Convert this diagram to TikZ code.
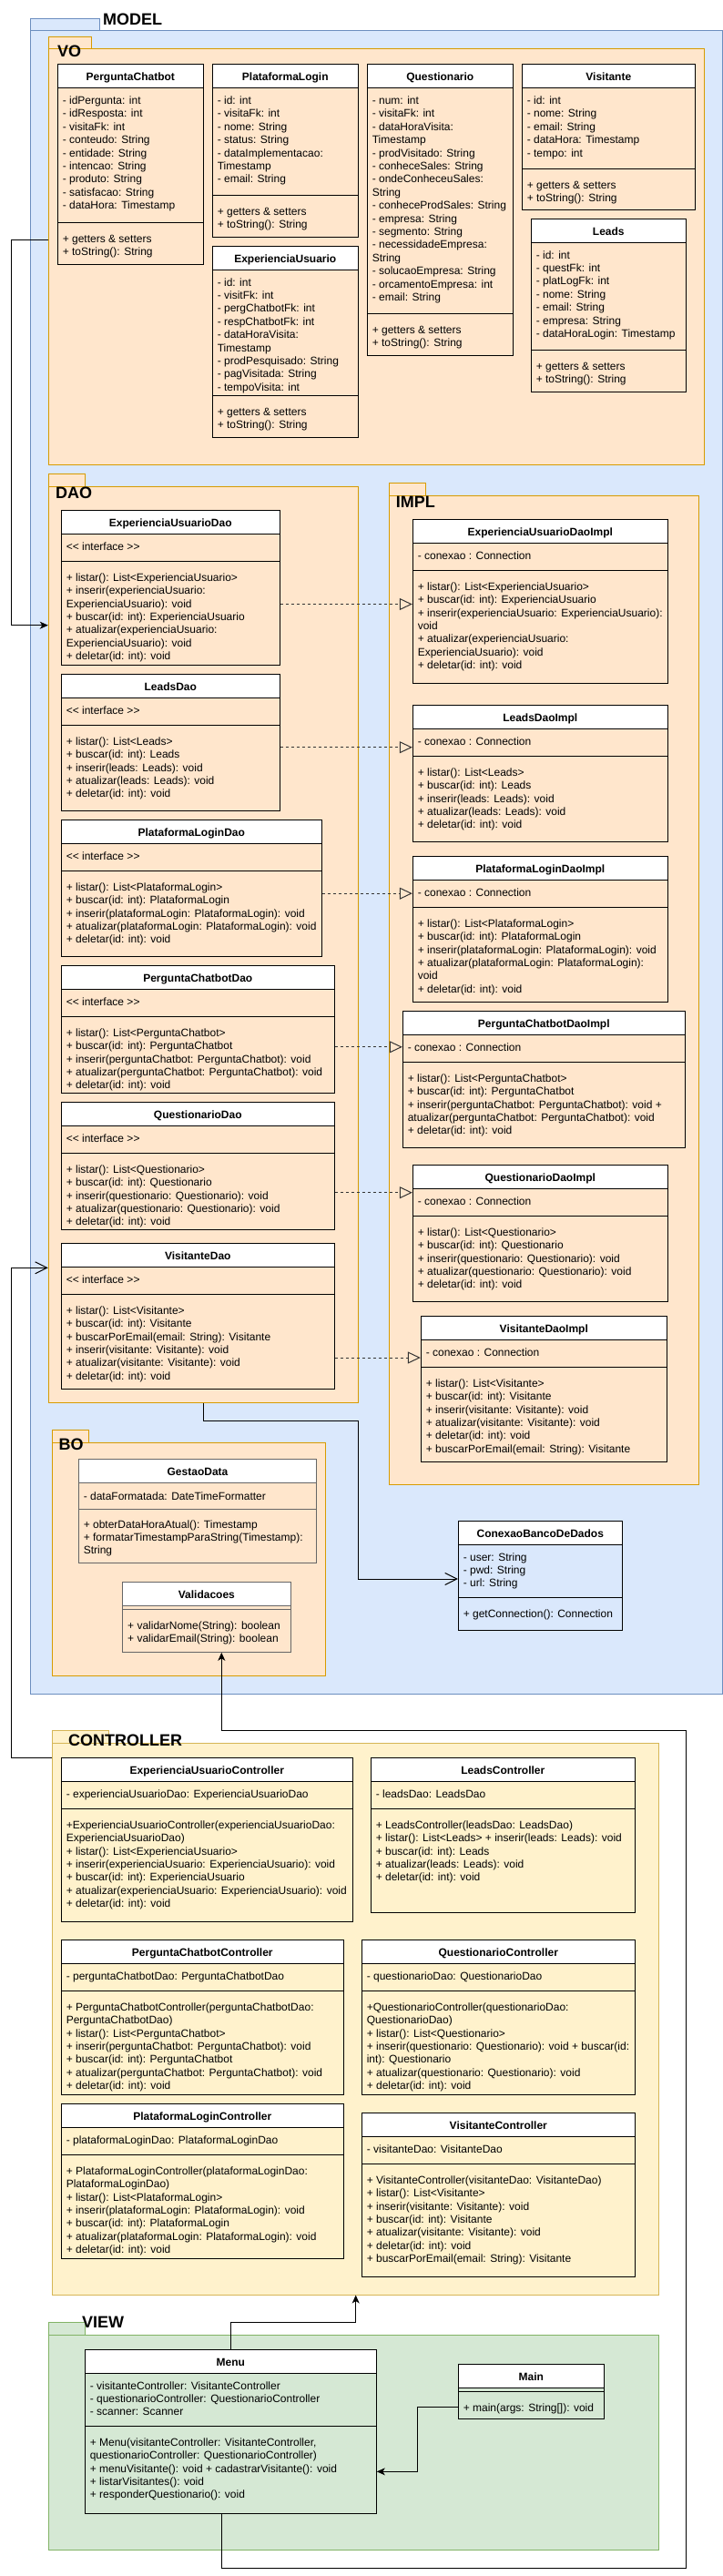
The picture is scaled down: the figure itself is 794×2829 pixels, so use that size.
\documentclass[tikz,border=0pt]{standalone}
\usepackage{fontspec}
\setmainfont{Liberation Sans}
\usetikzlibrary{arrows.meta,fit}
\definecolor{mfill}{HTML}{DAE8FC}\definecolor{mline}{HTML}{6C8EBF}
\definecolor{ofill}{HTML}{FFE6CC}\definecolor{oline}{HTML}{D79B00}
\definecolor{yfill}{HTML}{FFF2CC}\definecolor{yline}{HTML}{D6B656}
\definecolor{gfill}{HTML}{D5E8D4}\definecolor{gline}{HTML}{82B366}
\tikzset{
  pkgtitle/.style={font=\fontsize{18}{21.6}\selectfont\bfseries, inner sep=0pt, anchor=base west},
  ctitle/.style={font=\fontsize{12}{14.4}\selectfont\bfseries, inner sep=0pt, anchor=base},
  ctext/.style={font=\fontsize{12}{14.4}\selectfont, inner sep=0pt, anchor=north west, align=left},
  cborder/.style={draw=black, line width=1pt},
  pkgbox/.style={inner sep=0pt, line width=1pt},
  conn/.style={draw=black, line width=1pt},
  filledtip/.style={-{Stealth[length=9pt,width=8pt,inset=2.5pt]}},
  opentip/.style={-{Straight Barb[length=13pt,width=13pt]}},
  dashline/.style={draw=black!80, line width=1pt, dash pattern=on 3pt off 3pt, -{Triangle[open,length=14pt,width=13pt]}}
}
\newcommand\UMLcls[8]{%
  \fill[white] (#2,#3) rectangle (#4,#6);
  \node[fit={(#2,#3) (#4,#5)}, inner sep=0pt, cborder] (#1) {};
  \draw[cborder] (#2,#6) -- (#4,#6) (#2,#7) -- (#4,#7);
  \node[ctitle] (#1-t) at ({(#2+#4)/2},{(#3+#6)/2+5}) {#8};
}
\newcommand\UMLa[4]{\node[ctext] (#1) at ({#2+5.3},{#3+7.5}) {\strut #4};}
\newcommand\UMLm[4]{\node[ctext] (#1) at ({#2+5.3},{#3+11.7}) {\strut #4};}
\newcommand\UMLpkg[9]{% name fill line x1 ytab xtab ybody x2 y2
  \filldraw[fill=#2, draw=#3, line width=1pt] (#4,#5) rectangle (#6,#7);
  \node[fit={(#4,#7) (#8,#9)}, pkgbox, fill=#2, draw=#3] (#1) {};
}
\begin{document}
\begin{tikzpicture}[x=1pt,y=-1pt]
\useasboundingbox (0,0) rectangle (794,2829);

% ---------- packages ----------
\UMLpkg{model}{mfill}{mline}{33.3}{20.7}{109.3}{34}{793}{1860}
\node[pkgtitle] (model-t) at (113,27.7) {MODEL};
\UMLpkg{vo}{ofill}{oline}{53.3}{40.3}{100.7}{54}{773.3}{510.3}
\node[pkgtitle] (vo-t) at (63,62.3) {VO};
\UMLpkg{dao}{ofill}{oline}{53.3}{520.3}{93.3}{534}{393.3}{1540}
\node[pkgtitle] (dao-t) at (61,547.3) {DAO};
\UMLpkg{impl}{ofill}{oline}{427.3}{530.3}{467.3}{544}{767.3}{1630}
\node[pkgtitle] (impl-t) at (434.7,557.3) {IMPL};
\UMLpkg{bo}{ofill}{oline}{57.3}{1570.3}{97.3}{1584}{357.3}{1840}
\node[pkgtitle] (bo-t) at (64.4,1592) {BO};
\UMLpkg{ctrl}{yfill}{yline}{57.3}{1900.3}{119.3}{1914}{723.3}{2520}
\node[pkgtitle] (ctrl-t) at (75,1917.3) {CONTROLLER};
\UMLpkg{view}{gfill}{gline}{53.3}{2550.3}{93.3}{2564}{723.3}{2800.3}
\node[pkgtitle] (view-t) at (90,2556.7) {VIEW};

% ---------- VO ----------
\UMLcls{pc}{63.3}{70.3}{223.3}{290.3}{96.7}{244.3}{PerguntaChatbot}
\UMLa{pc-a}{63.3}{96.7}{- idPergunta: int\\- idResposta: int\\- visitaFk: int\\- conteudo: String\\- entidade: String\\- intencao: String\\- produto: String\\- satisfacao: String\\- dataHora: Timestamp}
\UMLm{pc-m}{63.3}{244.3}{+ getters \& setters\\+ toString(): String}

\UMLcls{pl}{233.3}{70.3}{393.3}{260.3}{96.7}{214.3}{PlataformaLogin}
\UMLa{pl-a}{233.3}{96.7}{- id: int\\- visitaFk: int\\- nome: String\\- status: String\\- dataImplementacao:\\Timestamp\\- email: String}
\UMLm{pl-m}{233.3}{214.3}{+ getters \& setters\\+ toString(): String}

\UMLcls{eu}{233.3}{270.3}{393.3}{480.3}{296.3}{434.3}{ExperienciaUsuario}
\UMLa{eu-a}{233.3}{296.3}{- id: int\\- visitFk: int\\- pergChatbotFk: int\\- respChatbotFk: int\\- dataHoraVisita:\\Timestamp\\- prodPesquisado: String\\- pagVisitada: String\\- tempoVisita: int}
\UMLm{eu-m}{233.3}{434.3}{+ getters \& setters\\+ toString(): String}

\UMLcls{qu}{403.3}{70.3}{563.3}{390}{96.7}{344.3}{Questionario}
\UMLa{qu-a}{403.3}{96.7}{- num: int\\- visitaFk: int\\- dataHoraVisita:\\Timestamp\\- prodVisitado: String\\- conheceSales: String\\- ondeConheceuSales:\\String\\- conheceProdSales: String\\- empresa: String\\- segmento: String\\- necessidadeEmpresa:\\String\\- solucaoEmpresa: String\\- orcamentoEmpresa: int\\- email: String}
\UMLm{qu-m}{403.3}{344.3}{+ getters \& setters\\+ toString(): String}

\UMLcls{vi}{573.3}{70.3}{763.3}{230}{96.7}{185.3}{Visitante}
\UMLa{vi-a}{573.3}{96.7}{- id: int\\- nome: String\\- email: String\\- dataHora: Timestamp\\- tempo: int}
\UMLm{vi-m}{573.3}{185.3}{+ getters \& setters\\+ toString(): String}

\UMLcls{le}{583.3}{240.3}{753.3}{430}{266.3}{384.3}{Leads}
\UMLa{le-a}{583.3}{266.3}{- id: int\\- questFk: int\\- platLogFk: int\\- nome: String\\- email: String\\- empresa: String\\- dataHoraLogin: Timestamp}
\UMLm{le-m}{583.3}{384.3}{+ getters \& setters\\+ toString(): String}

% ---------- DAO ----------
\UMLcls{eud}{67.3}{560.3}{307.3}{730.3}{586.3}{616.3}{ExperienciaUsuarioDao}
\UMLa{eud-a}{67.3}{586.3}{<{}< interface >{}>}
\UMLm{eud-m}{67.3}{616.3}{+ listar(): List<ExperienciaUsuario>\\+ inserir(experienciaUsuario:\\ExperienciaUsuario): void\\+ buscar(id: int): ExperienciaUsuario\\+ atualizar(experienciaUsuario:\\ExperienciaUsuario): void\\+ deletar(id: int): void}

\UMLcls{led}{67.3}{740.3}{307.3}{890.3}{766.3}{796.3}{LeadsDao}
\UMLa{led-a}{67.3}{766.3}{<{}< interface >{}>}
\UMLm{led-m}{67.3}{796.3}{+ listar(): List<Leads>\\+ buscar(id: int): Leads\\+ inserir(leads: Leads): void\\+ atualizar(leads: Leads): void\\+ deletar(id: int): void}

\UMLcls{pld}{67.3}{900.3}{353.3}{1050.3}{926.3}{956.3}{PlataformaLoginDao}
\UMLa{pld-a}{67.3}{926.3}{<{}< interface >{}>}
\UMLm{pld-m}{67.3}{956.3}{+ listar(): List<PlataformaLogin>\\+ buscar(id: int): PlataformaLogin\\+ inserir(plataformaLogin: PlataformaLogin): void\\+ atualizar(plataformaLogin: PlataformaLogin): void\\+ deletar(id: int): void}

\UMLcls{pcd}{67.3}{1060.3}{367.3}{1200.3}{1086.3}{1116.3}{PerguntaChatbotDao}
\UMLa{pcd-a}{67.3}{1086.3}{<{}< interface >{}>}
\UMLm{pcd-m}{67.3}{1116.3}{+ listar(): List<PerguntaChatbot>\\+ buscar(id: int): PerguntaChatbot\\+ inserir(perguntaChatbot: PerguntaChatbot): void\\+ atualizar(perguntaChatbot: PerguntaChatbot): void\\+ deletar(id: int): void}

\UMLcls{qud}{67.3}{1210.3}{367.3}{1350.3}{1236.3}{1266.3}{QuestionarioDao}
\UMLa{qud-a}{67.3}{1236.3}{<{}< interface >{}>}
\UMLm{qud-m}{67.3}{1266.3}{+ listar(): List<Questionario>\\+ buscar(id: int): Questionario\\+ inserir(questionario: Questionario): void\\+ atualizar(questionario: Questionario): void\\+ deletar(id: int): void}

\UMLcls{vid}{67.3}{1365.3}{367.3}{1525.3}{1391.3}{1421.3}{VisitanteDao}
\UMLa{vid-a}{67.3}{1391.3}{<{}< interface >{}>}
\UMLm{vid-m}{67.3}{1421.3}{+ listar(): List<Visitante>\\+ buscar(id: int): Visitante\\+ buscarPorEmail(email: String): Visitante\\+ inserir(visitante: Visitante): void\\+ atualizar(visitante: Visitante): void\\+ deletar(id: int): void}

% ---------- IMPL ----------
\UMLcls{eui}{453.3}{570.3}{733.3}{750.3}{596.3}{626.3}{ExperienciaUsuarioDaoImpl}
\UMLa{eui-a}{453.3}{596.3}{- conexao : Connection}
\UMLm{eui-m}{453.3}{626.3}{+ listar(): List<ExperienciaUsuario>\\+ buscar(id: int): ExperienciaUsuario\\+ inserir(experienciaUsuario: ExperienciaUsuario):\\void\\+ atualizar(experienciaUsuario:\\ExperienciaUsuario): void\\+ deletar(id: int): void}

\UMLcls{lei}{453.3}{774.3}{733.3}{924}{800.3}{830.3}{LeadsDaoImpl}
\UMLa{lei-a}{453.3}{800.3}{- conexao : Connection}
\UMLm{lei-m}{453.3}{830.3}{+ listar(): List<Leads>\\+ buscar(id: int): Leads\\+ inserir(leads: Leads): void\\+ atualizar(leads: Leads): void\\+ deletar(id: int): void}

\UMLcls{pli}{453.3}{940.3}{733.3}{1100.3}{966.3}{996.3}{PlataformaLoginDaoImpl}
\UMLa{pli-a}{453.3}{966.3}{- conexao : Connection}
\UMLm{pli-m}{453.3}{996.3}{+ listar(): List<PlataformaLogin>\\+ buscar(id: int): PlataformaLogin\\+ inserir(plataformaLogin: PlataformaLogin): void\\+ atualizar(plataformaLogin: PlataformaLogin):\\void\\+ deletar(id: int): void}

\UMLcls{pci}{442.3}{1110.3}{752.3}{1260.3}{1136.3}{1166.3}{PerguntaChatbotDaoImpl}
\UMLa{pci-a}{442.3}{1136.3}{- conexao : Connection}
\UMLm{pci-m}{442.3}{1166.3}{+ listar(): List<PerguntaChatbot>\\+ buscar(id: int): PerguntaChatbot\\+ inserir(perguntaChatbot: PerguntaChatbot): void +\\atualizar(perguntaChatbot: PerguntaChatbot): void\\+ deletar(id: int): void}

\UMLcls{qui}{453.3}{1279.3}{733.3}{1429.3}{1305.3}{1335.3}{QuestionarioDaoImpl}
\UMLa{qui-a}{453.3}{1305.3}{- conexao : Connection}
\UMLm{qui-m}{453.3}{1335.3}{+ listar(): List<Questionario>\\+ buscar(id: int): Questionario\\+ inserir(questionario: Questionario): void\\+ atualizar(questionario: Questionario): void\\+ deletar(id: int): void}

\UMLcls{vii}{462.3}{1445.3}{732.3}{1605.3}{1471.3}{1501.3}{VisitanteDaoImpl}
\UMLa{vii-a}{462.3}{1471.3}{- conexao : Connection}
\UMLm{vii-m}{462.3}{1501.3}{+ listar(): List<Visitante>\\+ buscar(id: int): Visitante\\+ inserir(visitante: Visitante): void\\+ atualizar(visitante: Visitante): void\\+ deletar(id: int): void\\+ buscarPorEmail(email: String): Visitante}

% ---------- BO ----------
\begin{scope}[cborder/.style={draw=black!60, line width=1pt}]
\UMLcls{gd}{86.3}{1602.7}{347.7}{1716.3}{1628.7}{1657}{GestaoData}
\UMLa{gd-a}{86.3}{1629.3}{- dataFormatada: DateTimeFormatter}
\UMLm{gd-m}{86.3}{1656}{+ obterDataHoraAtual(): Timestamp\\+ formatarTimestampParaString(Timestamp):\\String}
\UMLcls{va}{134.7}{1737.7}{319}{1814.3}{1763.7}{1767.3}{Validacoes}
\UMLm{va-m}{134.7}{1767.3}{+ validarNome(String): boolean\\+ validarEmail(String): boolean}
\end{scope}

% ---------- Conexao ----------
\UMLcls{cbd}{503.3}{1670.3}{683.3}{1790.3}{1696.3}{1754.3}{ConexaoBancoDeDados}
\UMLa{cbd-a}{503.3}{1696.3}{- user: String\\- pwd: String\\- url: String}
\UMLm{cbd-m}{503.3}{1754.3}{+ getConnection(): Connection}

% ---------- CONTROLLER ----------
\UMLcls{euc}{67.3}{1930.3}{387.3}{2110.3}{1956.3}{1986.3}{ExperienciaUsuarioController}
\UMLa{euc-a}{67.3}{1956.3}{- experienciaUsuarioDao: ExperienciaUsuarioDao}
\UMLm{euc-m}{67.3}{1986.3}{+ExperienciaUsuarioController(experienciaUsuarioDao:\\ExperienciaUsuarioDao)\\+ listar(): List<ExperienciaUsuario>\\+ inserir(experienciaUsuario: ExperienciaUsuario): void\\+ buscar(id: int): ExperienciaUsuario\\+ atualizar(experienciaUsuario: ExperienciaUsuario): void\\+ deletar(id: int): void}

\UMLcls{lec}{407.3}{1930.3}{697.3}{2100.3}{1956.3}{1986.3}{LeadsController}
\UMLa{lec-a}{407.3}{1956.3}{- leadsDao: LeadsDao}
\UMLm{lec-m}{407.3}{1986.3}{+ LeadsController(leadsDao: LeadsDao)\\+ listar(): List<Leads> + inserir(leads: Leads): void\\+ buscar(id: int): Leads\\+ atualizar(leads: Leads): void\\+ deletar(id: int): void}

\UMLcls{pcc}{67.3}{2130.3}{377.3}{2300.3}{2156.3}{2186.3}{PerguntaChatbotController}
\UMLa{pcc-a}{67.3}{2156.3}{- perguntaChatbotDao: PerguntaChatbotDao}
\UMLm{pcc-m}{67.3}{2186.3}{+ PerguntaChatbotController(perguntaChatbotDao:\\PerguntaChatbotDao)\\+ listar(): List<PerguntaChatbot>\\+ inserir(perguntaChatbot: PerguntaChatbot): void\\+ buscar(id: int): PerguntaChatbot\\+ atualizar(perguntaChatbot: PerguntaChatbot): void\\+ deletar(id: int): void}

\UMLcls{quc}{397.3}{2130.3}{697.3}{2300.3}{2156.3}{2186.3}{QuestionarioController}
\UMLa{quc-a}{397.3}{2156.3}{- questionarioDao: QuestionarioDao}
\UMLm{quc-m}{397.3}{2186.3}{+QuestionarioController(questionarioDao:\\QuestionarioDao)\\+ listar(): List<Questionario>\\+ inserir(questionario: Questionario): void + buscar(id:\\int): Questionario\\+ atualizar(questionario: Questionario): void\\+ deletar(id: int): void}

\UMLcls{plc}{67.3}{2310.3}{377.3}{2480.3}{2336.3}{2366.3}{PlataformaLoginController}
\UMLa{plc-a}{67.3}{2336.3}{- plataformaLoginDao: PlataformaLoginDao}
\UMLm{plc-m}{67.3}{2366.3}{+ PlataformaLoginController(plataformaLoginDao:\\PlataformaLoginDao)\\+ listar(): List<PlataformaLogin>\\+ inserir(plataformaLogin: PlataformaLogin): void\\+ buscar(id: int): PlataformaLogin\\+ atualizar(plataformaLogin: PlataformaLogin): void\\+ deletar(id: int): void}

\UMLcls{vic}{397.3}{2320.3}{697.3}{2500.3}{2346.3}{2376.3}{VisitanteController}
\UMLa{vic-a}{397.3}{2346.3}{- visitanteDao: VisitanteDao}
\UMLm{vic-m}{397.3}{2376.3}{+ VisitanteController(visitanteDao: VisitanteDao)\\+ listar(): List<Visitante>\\+ inserir(visitante: Visitante): void\\+ buscar(id: int): Visitante\\+ atualizar(visitante: Visitante): void\\+ deletar(id: int): void\\+ buscarPorEmail(email: String): Visitante}

% ---------- VIEW ----------
\UMLcls{menu}{93.3}{2580.3}{413.3}{2760.3}{2606.3}{2664.3}{Menu}
\UMLa{menu-a}{93.3}{2606.3}{- visitanteController: VisitanteController\\- questionarioController: QuestionarioController\\- scanner: Scanner}
\UMLm{menu-m}{93.3}{2664.3}{+ Menu(visitanteController: VisitanteController,\\questionarioController: QuestionarioController)\\+ menuVisitante(): void + cadastrarVisitante(): void\\+ listarVisitantes(): void\\+ responderQuestionario(): void}

\UMLcls{main}{503.3}{2596.3}{663.3}{2656.3}{2622.3}{2626.3}{Main}
\UMLm{main-m}{503.3}{2626.3}{+ main(args: String[]): void}

% ---------- connectors ----------
\draw[dashline] (eud.east |- 0,663.5) -- (eui.west |- 0,663.5);
\draw[dashline] (led.east |- 0,820.7) -- (lei.west |- 0,820.7);
\draw[dashline] (pld.east |- 0,981.2) -- (pli.west |- 0,981.2);
\draw[dashline] (pcd.east |- 0,1149.8) -- (pci.west |- 0,1149.8);
\draw[dashline] (qud.east |- 0,1309.7) -- (qui.west |- 0,1309.7);
\draw[dashline] (vid.east |- 0,1491) -- (vii.west |- 0,1491);

\draw[conn, filledtip] (vo.west |- 0,263.3) -- ++(-40,0) |- (dao.west |- 0,686.7);
\draw[conn, opentip] (ctrl.west |- 0,1930) -- ++(-44,0) |- (dao.west |- 0,1392.3);
\draw[conn, opentip] (dao.south) |- (393.3,1560.3) |- (cbd.west |- 0,1734);
\draw[conn, filledtip] (menu.south -| 243.3,0) -- ++(0,59.7) -| (753.3,1900) -| (va.south -| 243.3,0);
\draw[conn, filledtip] (menu.north) |- (390.7,2550.7) -- (ctrl.south -| 390.7,0);
\draw[conn, filledtip] (main.west |- 0,2643.3) -| (458.3,2714.3) -- (menu.east |- 0,2714.3);
\end{tikzpicture}
\end{document}
